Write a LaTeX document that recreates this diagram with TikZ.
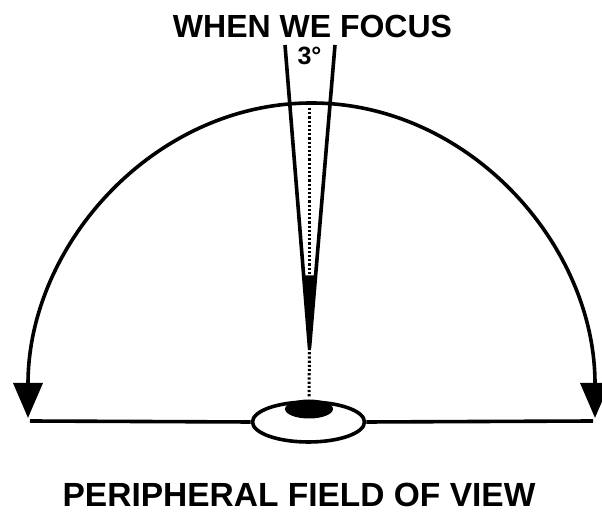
\documentclass[tikz,border=0pt]{standalone}
\usepackage{fontspec}
\setmainfont{Liberation Sans}
\usetikzlibrary{positioning,arrows.meta,shapes.geometric,calc}

\begin{document}
\begin{tikzpicture}[x=1pt, y=1pt, line width=3.6pt,
      t/.style={font=\bfseries\fontsize{32}{36}\selectfont, inner sep=0pt, anchor=base},
      f/.style={{Triangle[length=35pt,width=29pt]}-{Triangle[length=35pt,width=29pt]}},
      pt/.style={line width=3pt, dash pattern=on 2.2pt off 2pt}]
    \useasboundingbox (0,0) rectangle (602,513);

    % textos
    \node[t] (foco) at (312.5,475) {WHEN WE FOCUS};
    \node[t, font=\bfseries\fontsize{25}{28}\selectfont] (grados) at (309.5,448) {3°};
    \node[t, font=\bfseries\fontsize{33.5}{38}\selectfont] (campo) at (299,6) {PERIPHERAL FIELD OF VIEW};

    % ojo
    \node[ellipse, draw, minimum width=112pt, minimum height=40pt, inner sep=0pt] (ojo) at (308.5,91) {};
    \node[ellipse, fill, minimum width=48pt, minimum height=19pt, inner sep=0pt] (pupila) at (309,104) {};

    \coordinate (izq) at (28,95);
    \coordinate (der) at (595,95);
    \coordinate (la) at (30,92);
    \coordinate (lb) at (593,92);
    \coordinate (vi) at (285,468);
    \coordinate (vd) at (335,468);
    \coordinate (punta) at (309.5,165);

    % campo periferico
    \draw[f] (izq) arc[start angle=180, end angle=0, x radius=283.5, y radius=315];
    \draw (la) -- (ojo.west);
    \draw (ojo.east) -- (lb);

    % cono de 3 grados
    \fill ($(vi)!0.76!(punta)$) -- (punta) -- ($(vd)!0.76!(punta)$) -- cycle;
    \draw (vi) -- (punta) -- (vd);
    \draw[pt] (309.5,405) -- (309.5,236);
    \draw[pt] (punta) -- (pupila.north);
  \end{tikzpicture}
\end{document}
